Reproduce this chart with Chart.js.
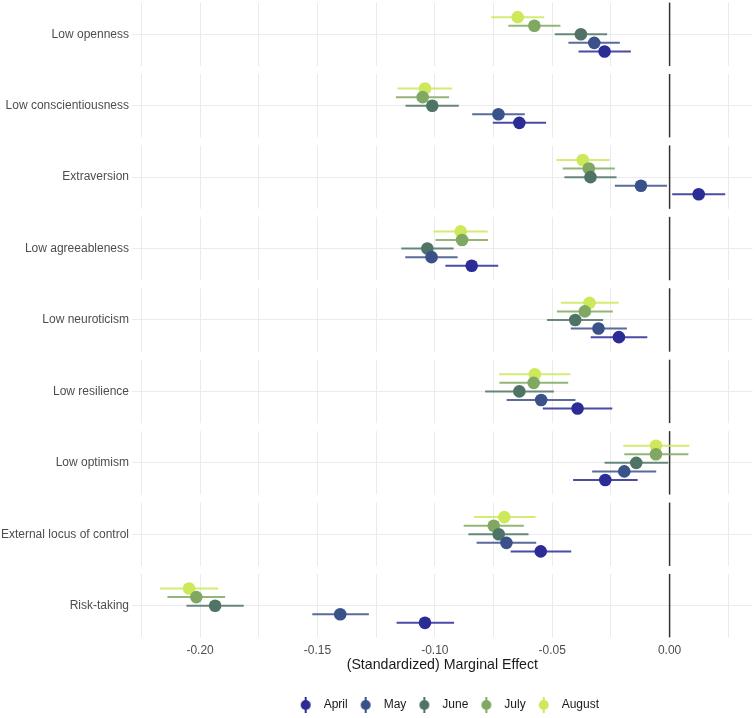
<!DOCTYPE html>
<html><head><meta charset="utf-8">
<script src="https://cdn.jsdelivr.net/npm/chart.js@4.4.0/dist/chart.umd.min.js"></script>
<style>html,body{margin:0;padding:0;background:#fff}</style>
</head><body>
<canvas id="c" width="756" height="718"></canvas>
<script>
const categories = ['Low openness','Low conscientiousness','Extraversion','Low agreeableness','Low neuroticism','Low resilience','Low optimism','External locus of control','Risk-taking'];
const months = ['April','May','June','July','August'];
const monthColors = ['#2b2c96','#3b5189','#4f7466','#80a862','#cde95b'];
const monthOffsets = [0.24, 0.12, 0, -0.12, -0.24];

const aprilEst = [-0.0277,-0.0640, 0.0124,-0.0843,-0.0216,-0.0392,-0.0274,-0.0549,-0.1042];
const aprilLo  = [-0.0388,-0.0753, 0.0011,-0.0955,-0.0336,-0.0540,-0.0411,-0.0677,-0.1163];
const aprilHi  = [-0.0165,-0.0526, 0.0237,-0.0730,-0.0095,-0.0244,-0.0136,-0.0419,-0.0918];

const mayEst = [-0.0321,-0.0729,-0.0122,-0.1014,-0.0303,-0.0547,-0.0193,-0.0695,-0.1403];
const mayLo  = [-0.0431,-0.0841,-0.0233,-0.1126,-0.0421,-0.0694,-0.0330,-0.0822,-0.1522];
const mayHi  = [-0.0212,-0.0617,-0.0011,-0.0903,-0.0182,-0.0401,-0.0057,-0.0568,-0.1281];

const juneEst = [-0.0378,-0.1011,-0.0337,-0.1032,-0.0402,-0.0640,-0.0142,-0.0728,-0.1936];
const juneLo  = [-0.0489,-0.1125,-0.0448,-0.1143,-0.0522,-0.0786,-0.0277,-0.0857,-0.2058];
const juneHi  = [-0.0266,-0.0898,-0.0226,-0.0920,-0.0283,-0.0493,-0.0006,-0.0601,-0.1814];

const julyEst = [-0.0576,-0.1052,-0.0344,-0.0884,-0.0361,-0.0579,-0.0058,-0.0749,-0.2016];
const julyLo  = [-0.0687,-0.1166,-0.0455,-0.0997,-0.0480,-0.0725,-0.0193,-0.0877,-0.2139];
const julyHi  = [-0.0465,-0.0939,-0.0233,-0.0773,-0.0242,-0.0432, 0.0080,-0.0621,-0.1893];

const augustEst = [-0.0647,-0.1042,-0.0370,-0.0890,-0.0341,-0.0574,-0.0058,-0.0704,-0.2047];
const augustLo  = [-0.0760,-0.1159,-0.0482,-0.1006,-0.0463,-0.0726,-0.0197,-0.0833,-0.2171];
const augustHi  = [-0.0534,-0.0927,-0.0255,-0.0775,-0.0217,-0.0422, 0.0084,-0.0571,-0.1923];

const xTickValues = [-0.225,-0.2,-0.175,-0.15,-0.125,-0.1,-0.075,-0.05,-0.025,0,0.025];
const xTickLabels = ['','-0.20','','-0.15','','-0.10','','-0.05','','0.00',''];

const series = [
  [aprilEst, aprilLo, aprilHi],
  [mayEst, mayLo, mayHi],
  [juneEst, juneLo, juneHi],
  [julyEst, julyLo, julyHi],
  [augustEst, augustLo, augustHi]
];

function hexA(hex, a){
  const n = parseInt(hex.slice(1),16);
  return `rgba(${(n>>16)&255},${(n>>8)&255},${n&255},${a})`;
}

function legendGlyph(color){
  const c = document.createElement('canvas');
  c.width = 12; c.height = 18;
  const g = c.getContext('2d');
  g.strokeStyle = color; g.lineWidth = 2;
  g.beginPath(); g.moveTo(6,1); g.lineTo(6,17); g.stroke();
  g.fillStyle = color;
  g.beginPath(); g.arc(6,9,5,0,Math.PI*2); g.fill();
  return c;
}
const glyphs = monthColors.map(legendGlyph);

const datasets = months.map((m, k) => ({
  label: m,
  data: categories.map((cat, i) => ({
    x: series[k][0][i], y: i + monthOffsets[k], lo: series[k][1][i], hi: series[k][2][i]
  })),
  backgroundColor: monthColors[k],
  borderColor: monthColors[k],
  pointRadius: 6.3,
  pointBorderWidth: 0,
  showLine: false
}));

const panelPlugin = {
  id: 'panels',
  afterLayout(chart){
    const lg = chart.legend;
    if (lg){
      const a = chart.chartArea;
      const shift = (a.left + a.right) / 2 - (lg.left + lg.right) / 2 + 4;
      lg.left += shift; lg.right += shift;
    }
  },
  beforeDatasetsDraw(chart){
    const {ctx, chartArea: a, scales: {x, y}} = chart;
    ctx.save();
    ctx.beginPath(); ctx.rect(a.left, a.top, a.right - a.left, a.bottom - a.top); ctx.clip();
    const x0 = x.getPixelForValue(0);
    ctx.strokeStyle = '#333333'; ctx.lineWidth = 1.5;
    ctx.beginPath(); ctx.moveTo(x0, a.top); ctx.lineTo(x0, a.bottom); ctx.stroke();
    ctx.fillStyle = '#ffffff';
    for (let k = -1; k < categories.length; k++){
      const yb = y.getPixelForValue(k + 0.5);
      ctx.fillRect(a.left, yb - 4, a.right - a.left, 8);
    }
    chart.data.datasets.forEach((ds, di) => {
      const meta = chart.getDatasetMeta(di);
      ctx.strokeStyle = hexA(monthColors[di], 0.85);
      ctx.lineWidth = 2;
      meta.data.forEach((pt, i) => {
        const d = ds.data[i];
        ctx.beginPath();
        ctx.moveTo(x.getPixelForValue(d.lo), pt.y);
        ctx.lineTo(x.getPixelForValue(d.hi), pt.y);
        ctx.stroke();
      });
    });
    ctx.restore();
  }
};

new Chart(document.getElementById('c'), {
  type: 'scatter',
  data: { datasets },
  plugins: [panelPlugin],
  options: {
    responsive: false,
    animation: false,
    devicePixelRatio: 1,
    events: [],
    layout: { autoPadding: false, padding: { top: 0, right: 3.3, bottom: -3, left: 0 } },
    scales: {
      x: {
        type: 'linear',
        min: -0.2290, max: 0.0354,
        afterBuildTicks: s => { s.ticks = xTickValues.map(v => ({ value: v })); },
        afterFit: s => { s.height = 51.6; s.paddingLeft = 0; s.paddingRight = 0; },
        ticks: {
          callback: (v, i) => xTickLabels[i],
          font: { family: 'Liberation Sans', size: 12 },
          color: '#4d4d4d',
          padding: 2,
          autoSkip: false,
          maxRotation: 0
        },
        grid: { color: '#ebebeb', lineWidth: 1, drawTicks: false },
        border: { display: false },
        title: {
          display: true,
          text: '(Standardized) Marginal Effect',
          font: { family: 'Liberation Sans', size: 14.2 },
          color: '#1a1a1a',
          padding: { top: 0, bottom: 19.6 }
        }
      },
      y: {
        type: 'linear',
        reverse: true,
        min: -0.48, max: 8.5,
        afterBuildTicks: s => { s.ticks = categories.map((c, i) => ({ value: i })); },
        afterFit: s => { s.width = 132; s.paddingTop = 0; s.paddingBottom = 0; },
        ticks: {
          callback: (v, i) => categories[i],
          font: { family: 'Liberation Sans', size: 12 },
          color: '#4d4d4d',
          padding: 3,
          autoSkip: false
        },
        grid: { color: '#ebebeb', lineWidth: 1, drawTicks: false },
        border: { display: false }
      }
    },
    plugins: {
      tooltip: { enabled: false },
      legend: {
        position: 'bottom',
        labels: {
          usePointStyle: true,
          pointStyleWidth: 24,
          padding: 6,
          color: '#1a1a1a',
          font: { family: 'Liberation Sans', size: 12 },
          generateLabels: chart => months.map((m, k) => ({
            text: m,
            pointStyle: glyphs[k],
            fillStyle: monthColors[k],
            strokeStyle: monthColors[k],
            lineWidth: 0,
            hidden: false,
            datasetIndex: k,
            fontColor: '#1a1a1a'
          }))
        }
      }
    }
  }
});
</script>
</body></html>
